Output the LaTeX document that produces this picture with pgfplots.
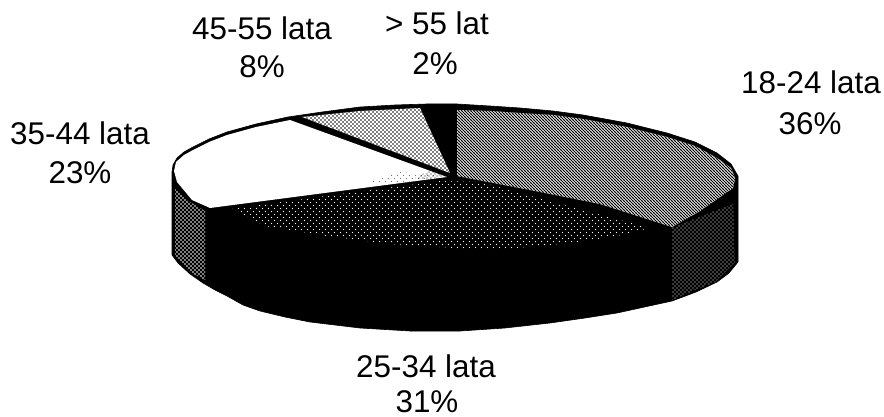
\documentclass[border=0pt]{standalone}
\usepackage{fontspec}
\setmainfont{Liberation Sans}
\usepackage{pgfplots}
\pgfplotsset{compat=1.18}
\usetikzlibrary{patterns}

% halftones of the scan
\pgfdeclarepatternformonly{dotlarge}{\pgfqpoint{-1bp}{-1bp}}{\pgfqpoint{5bp}{5bp}}{\pgfqpoint{4bp}{4bp}}{
  \pgfpathcircle{\pgfqpoint{1bp}{1bp}}{0.95bp}
  \pgfpathcircle{\pgfqpoint{3bp}{3bp}}{0.95bp}
  \pgfusepath{fill}}
\pgfdeclarepatternformonly{dotmid}{\pgfqpoint{-1bp}{-1bp}}{\pgfqpoint{5bp}{5bp}}{\pgfqpoint{4bp}{4bp}}{
  \pgfpathcircle{\pgfqpoint{1bp}{1bp}}{0.78bp}
  \pgfpathcircle{\pgfqpoint{3bp}{3bp}}{0.78bp}
  \pgfusepath{fill}}
\pgfdeclarepatternformonly{dotsmall}{\pgfqpoint{-1bp}{-1bp}}{\pgfqpoint{5bp}{5bp}}{\pgfqpoint{4bp}{4bp}}{
  \pgfpathcircle{\pgfqpoint{1bp}{1bp}}{0.6bp}
  \pgfpathcircle{\pgfqpoint{3bp}{3bp}}{0.6bp}
  \pgfusepath{fill}}
\pgfdeclarepatternformonly{dotsparse}{\pgfqpoint{-1bp}{-1bp}}{\pgfqpoint{7bp}{7bp}}{\pgfqpoint{6bp}{6bp}}{
  \pgfpathcircle{\pgfqpoint{1.5bp}{1.5bp}}{0.62bp}
  \pgfpathcircle{\pgfqpoint{4.5bp}{4.5bp}}{0.62bp}
  \pgfusepath{fill}}
\pgfdeclarepatternformonly{hatchfine}{\pgfqpoint{-1bp}{-1bp}}{\pgfqpoint{4bp}{4bp}}{\pgfqpoint{3bp}{3bp}}{
  \pgfsetlinewidth{0.9bp}
  \pgfpathmoveto{\pgfqpoint{-0.5bp}{3.5bp}}
  \pgfpathlineto{\pgfqpoint{3.5bp}{-0.5bp}}
  \pgfusepath{stroke}}

\tikzset{lbl/.style={font=\fontsize{31.5}{38}\selectfont, anchor=base, inner sep=0pt}}

\begin{document}
\begin{tikzpicture}
\useasboundingbox (0,0) rectangle (884bp,417bp);
\begin{axis}[
  at={(0,0)}, anchor=south west,
  scale only axis, width=884bp, height=417bp,
  xmin=0, xmax=884, ymin=0, ymax=417, y dir=reverse,
  hide axis, clip=false,
]
% whole body, black
\addplot[fill=black, draw=black, line width=0.6pt, line join=round] coordinates {
  (172,172) (173,165) (177,158) (184,152) (193,147) (209,139) (227,132) (256,124) (288,117) (322,112) (360,107)
  (395,105) (427,104) (457,104) (490,106) (520,108) (553,111) (583,115) (627,123) (667,133) (695,142) (717,153)
  (731,164) (738,176) (738,262) (729,273) (717,282) (696,292) (672,301) (617,313) (585,318) (550,323) (505,328)
  (460,331) (410,331) (360,328) (310,322) (285,317) (260,311) (243,305) (227,296) (215,290) (203,283) (190,274)
  (178,263) (172,255)
} -- cycle;
% 35-44 lata
\addplot[fill=white, draw=none] coordinates {
  (174,171) (176,162) (184,155) (193,150) (209,142) (227,135) (256,127) (290,120) (447,177) (210,208) (192,200) (177,182)
} -- cycle;
\addplot[pattern=dotsparse, pattern color=black!55, draw=none] coordinates {
  (362,184) (400,172) (445,176) (400,183)
} -- cycle;
\addplot[pattern=dotsmall, pattern color=black, draw=none] coordinates {
  (415,178) (430,170) (446,176) (430,179)
} -- cycle;
% 45-55 lata
\addplot[fill=white, draw=none] coordinates {(302,117) (360,111) (420,108) (450,173)} -- cycle;
\addplot[pattern=dotmid, pattern color=black, draw=none] coordinates {(302,117) (360,111) (420,108) (450,173)} -- cycle;
% 18-24 lata
\addplot[fill=white, draw=none] coordinates {
  (457,110) (490,111) (520,113) (553,115) (583,119) (627,127) (667,137) (695,146) (717,158) (731,168) (735,178)
  (733,188) (700,211) (672,227) (600,204) (530,190) (457,176)
} -- cycle;
\addplot[pattern=hatchfine, pattern color=black, draw=none] coordinates {
  (457,110) (490,111) (520,113) (553,115) (583,119) (627,127) (667,137) (695,146) (717,158) (731,168) (735,178)
  (733,188) (700,211) (672,227) (600,204) (530,190) (457,176)
} -- cycle;
% 25-34 lata, top face
\addplot[pattern=dotsparse, pattern color=white, draw=none] coordinates {
  (232,209) (340,194) (440,181) (480,182) (560,204) (650,228) (617,236) (570,243) (517,248) (455,248)
  (390,244) (327,236) (265,226)
} -- cycle;
% side faces
\addplot[pattern=dotlarge, pattern color=white, draw=none] coordinates {
  (175,189) (190,202) (205,211) (205,280) (190,272) (175,256)
} -- cycle;
\addplot[pattern=dotsmall, pattern color=white, draw=none] coordinates {
  (672,228) (702,216) (733,204) (735,262) (715,282) (695,290) (672,300)
} -- cycle;
\node[lbl] at (axis cs:262,40) {45-55 lata};
\node[lbl] at (axis cs:262,78) {8\%};
\node[lbl] at (axis cs:437,35) {> 55 lat};
\node[lbl] at (axis cs:435,75) {2\%};
\node[lbl] at (axis cs:811,93) {18-24 lata};
\node[lbl] at (axis cs:810,134) {36\%};
\node[lbl] at (axis cs:80,144) {35-44 lata};
\node[lbl] at (axis cs:80,183) {23\%};
\node[lbl] at (axis cs:426,377) {25-34 lata};
\node[lbl] at (axis cs:427,412) {31\%};
\end{axis}
\end{tikzpicture}
\end{document}
